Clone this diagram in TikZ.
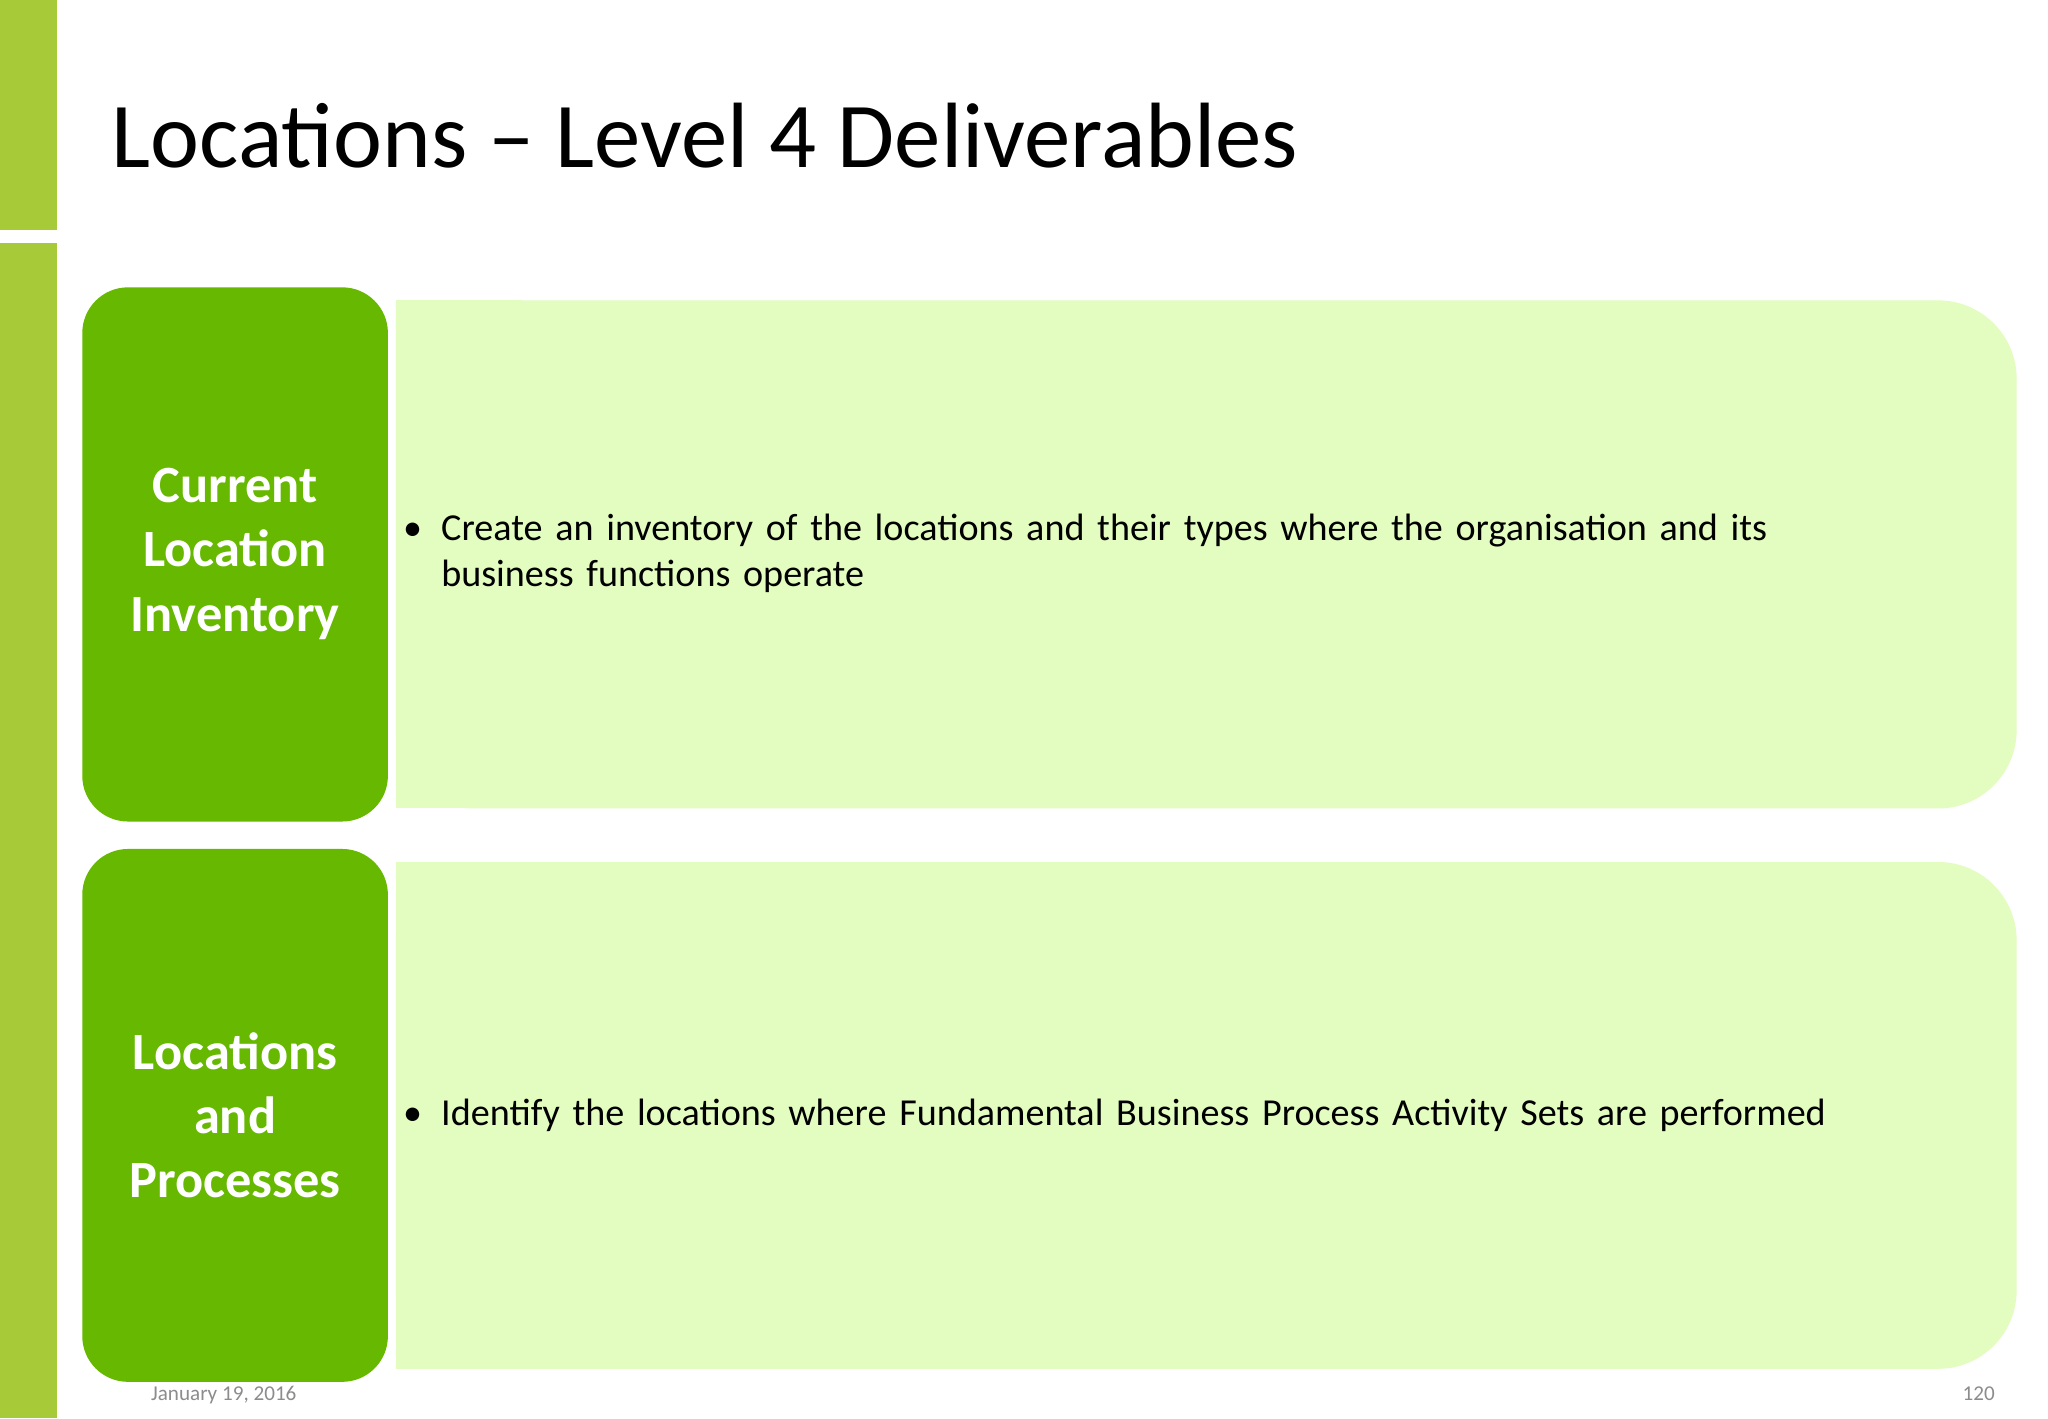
\documentclass[tikz,border=0pt]{standalone}
\usepackage{fontspec}
\setmainfont{Carlito}
\definecolor{barg}{HTML}{A6CA38}
\definecolor{dg}{HTML}{66B800}
\definecolor{lg}{HTML}{E3FCC0}
\definecolor{ft}{HTML}{8C8C8C}
\begin{document}
\begin{tikzpicture}[x=0.01cm,y=-0.01cm,
  head/.style={fill=dg,rounded corners=35\pgflinewidth*0+0.35cm},
  headtxt/.style={text=white,font=\fontsize{11.4pt}{14pt}\selectfont\bfseries,align=center},
  body/.style={anchor=west,font=\fontsize{8.3pt}{10pt}\selectfont,align=left,text width=11.4cm,inner sep=0pt}]
\useasboundingbox (0,0) rectangle (1568,1086);
\fill[white] (0,0) rectangle (1568,1086);
\fill[barg] (0,0) rectangle (44,176);
\fill[barg] (0,186) rectangle (44,1086);
\node[anchor=base west,inner sep=0pt,font=\fontsize{20.2pt}{24pt}\selectfont] (title) at (85,128) {Locations – Level 4 Deliverables};
% row 1
\fill[lg,rounded corners=0.6cm] (303,230) -- (1544,230) -- (1544,619) -- (303,619) [sharp corners] -- cycle;
\fill[lg] (303,230) rectangle (400,619);
\fill[dg,rounded corners=0.35cm] (63,220) rectangle (297,629);
\node[headtxt] (h1) at (180,424) {Current\\Location\\Inventory};
\node[body] (b1) at (308,424) {\textbullet\hspace{0.5em}\parbox[t]{10.7cm}{Create an inventory of the locations and their types where the organisation and its business functions operate}};
% row 2
\fill[lg,rounded corners=0.6cm] (303,660) -- (1544,660) -- (1544,1048) -- (303,1048) -- cycle;
\fill[lg] (303,660) rectangle (400,1048);
\fill[dg,rounded corners=0.35cm] (63,650) rectangle (297,1058);
\node[headtxt] (h2) at (180,854) {Locations\\and\\Processes};
\node[body,text width=12.5cm] (b2) at (308,854) {\textbullet\hspace{0.5em}Identify the locations where Fundamental Business Process Activity Sets are performed};
\node[anchor=base west,inner sep=0pt,text=ft,font=\fontsize{4.6pt}{5pt}\selectfont] (date) at (115,1072) {January 19, 2016};
\node[anchor=base east,inner sep=0pt,text=ft,font=\fontsize{4.6pt}{5pt}\selectfont] (pg) at (1528,1072) {120};
\end{tikzpicture}
\end{document}
